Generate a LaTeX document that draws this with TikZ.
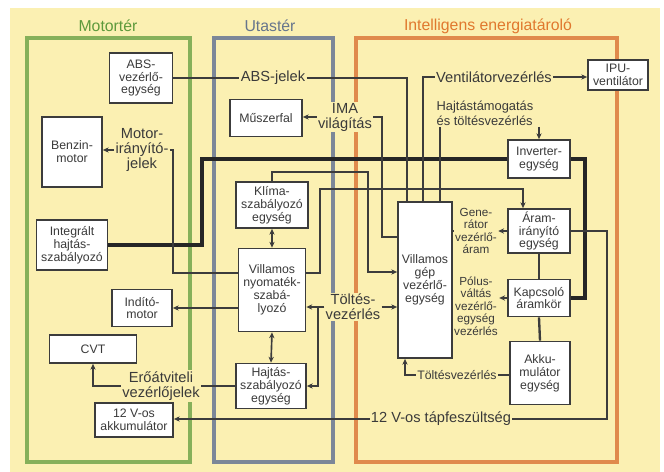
\documentclass[tikz,border=0pt]{standalone}
\usepackage{fontspec}
\setmainfont{Liberation Sans}
\usepackage{tikz}
\usetikzlibrary{arrows.meta,positioning,calc}
\definecolor{bgyellow}{HTML}{FBF0B2}
\definecolor{motgreen}{HTML}{86B05A}
\definecolor{motgreentxt}{HTML}{5E9A3C}
\definecolor{utasgrey}{HTML}{7C8798}
\definecolor{utasgreytxt}{HTML}{66758C}
\definecolor{ieorange}{HTML}{E08A4C}
\definecolor{ieorangetxt}{HTML}{E0782E}
\definecolor{wiregrey}{HTML}{3C3C3C}
\definecolor{txtgrey}{HTML}{3A3A3A}
\tikzset{
  unit/.style={draw=wiregrey, line width=1.5pt, fill=white, align=center,
               inner sep=1pt, text=txtgrey, font=\fontsize{10.5}{11}\selectfont},
  zone/.style={draw=#1, line width=2.6pt},
  zonetitle/.style={font=\fontsize{13.5}{14}\selectfont, text=#1},
  sig/.style={fill=bgyellow, inner sep=1pt, align=center, text=txtgrey,
              font=\fontsize{12.5}{12.8}\selectfont},
  sigs/.style={fill=bgyellow, inner sep=1pt, align=center, text=txtgrey,
               font=\fontsize{10}{10.7}\selectfont},
  wire/.style={draw=wiregrey, line width=1.4pt},
  wirea/.style={wire, -{Stealth[length=5pt,width=4.5pt]}},
  wireb/.style={wire, {Stealth[length=5pt,width=4.5pt]}-{Stealth[length=5pt,width=4.5pt]}},
  bus/.style={draw=black!85, line width=2.6pt},
}

\begin{document}
\begin{tikzpicture}[x=0.03cm, y=-0.03cm]
\useasboundingbox (0,0) rectangle (664,472);
\fill[white] (0,0) rectangle (664,472);
\fill[bgyellow] (10,8) rectangle (660,472);

% ------------------------- zones ----------------------------------------
\draw[zone=motgreen] (27,38) rectangle (190,462);
\draw[zone=utasgrey] (214,38) rectangle (333,462);
\draw[zone=ieorange] (356,38) rectangle (617,462);
\node[zonetitle=motgreentxt] at (108,26) (tmot) {Motortér};
\node[zonetitle=utasgreytxt] at (270,26) (tutas) {Utastér};
\node[zonetitle=ieorangetxt] at (488,26) (tie) {Intelligens energiatároló};

% ------------------------- units ----------------------------------------
\node[unit, minimum width=1.89cm, minimum height=1.5cm] at (141,78) (abs)
   {ABS-\\vezérlő-\\egység};
\node[unit, minimum width=1.8cm, minimum height=2.1cm] at (72,152) (benzin)
   {Benzin-\\motor};
\node[unit, minimum width=2.13cm, minimum height=1.5cm] at (72,245) (integ)
   {Integrált\\hajtás-\\szabályozó};
\node[unit, minimum width=1.8cm, minimum height=1.11cm] at (142,308) (indito)
   {Indító-\\motor};
\node[unit, minimum width=2.61cm, minimum height=0.84cm] at (93,349) (cvt) {CVT};
\node[unit, minimum width=2.34cm, minimum height=1.02cm] at (134,420) (akku12)
   {12 V-os\\akkumulátor};
\node[unit, minimum width=2.16cm, minimum height=1.11cm] at (266,118) (muszer)
   {Műszerfal};
\node[unit, minimum width=2.16cm, minimum height=1.38cm] at (272,205) (klima)
   {Klíma-\\szabályozó\\egység};
\node[unit, minimum width=2.01cm, minimum height=2.49cm] at (272,290) (vny)
   {Villamos\\nyomaték-\\szabá-\\lyozó};
\node[unit, minimum width=2.1cm, minimum height=1.35cm] at (271,386) (hajtas)
   {Hajtás-\\szabályozó\\egység};
\node[unit, minimum width=1.8cm, minimum height=0.9cm] at (618,75) (ipu)
   {IPU-\\ventilátor};
\node[unit, minimum width=1.86cm, minimum height=1.14cm] at (539,159) (inverter)
   {Inverter-\\egység};
\node[unit, minimum width=1.86cm, minimum height=1.32cm] at (539,231) (aram)
   {Áram-\\irányító\\egység};
\node[unit, minimum width=1.86cm, minimum height=1.11cm] at (539,298) (kapcs)
   {Kapcsoló\\áramkör};
\node[unit, minimum width=1.8cm, minimum height=1.89cm] at (540,373) (akku)
   {Akku-\\mulátor\\egység};
\node[unit, minimum width=1.62cm, minimum height=4.68cm] at (425,280) (vgv)
   {Villamos\\gép\\vezérlő-\\egység};

% ------------------------- signal labels --------------------------------
\node[sig] at (273,78) (absj) {ABS-jelek};
\node[sig] at (494,77) (vent) {Ventilátorvezérlés};
\node[sig, align=left, font=\fontsize{11}{13}\selectfont] at (485,113) (hajtl)
   {Hajtástámogatás\\és töltésvezérlés};
\node[sig] at (345,117) (ima) {IMA\\világítás};
\node[sig] at (142,150) (motj) {Motor-\\irányító-\\jelek};
\node[sig] at (353,307) (tolt) {Töltés-\\vezérlés};
\node[sig] at (161,386) (eroj) {Erőátviteli\\vezérlőjelek};
\node[sig] at (441,419) (tap) {12 V-os tápfeszültség};
\node[sigs] at (476,231) (gen) {Gene-\\rátor\\vezérlő-\\áram};
\node[sigs] at (476,306) (pol) {Pólus-\\váltás\\vezérlő-\\egység\\vezérlés};
\node[sigs, font=\fontsize{10.5}{11}\selectfont] at (457,375) (tl2) {Töltésvezérlés};

% ------------------------- connections ----------------------------------
\draw[bus] (integ.east) -| (inverter.west -| 202,0) -- (inverter.west);
\draw[bus] (inverter.east) -| (kapcs.east -| 585,0) -- (kapcs.east);

\draw[wire] (abs.east) -- (absj.west);
\draw[wire] (absj.east) -| (vgv.north -| 407,0);
\draw[wire] (vgv.north -| 423,0) |- (vent.west);
\draw[wirea] (vent.east) -- (ipu.west |- vent.east);
\draw[wire] (vgv.north -| 440,0) -- (hajtl.south -| 440,0);
\draw[wirea] (hajtl.south -| inverter.north) -- (inverter.north);

\draw[wire] (vgv.west |- 0,237) -| (ima.east -| 382,0) -- (ima.east);
\draw[wirea] (ima.west) -- (muszer.east |- ima.west);
\draw[wirea] (klima.north) |- (368,172) |- (vgv.west |- 0,272);
\draw[wirea] (vny.east |- 0,273) -| (320,189) -| (aram.north -| 523,0);
\draw[wireb] (klima.south) -- (vny.north);
\draw[wireb] (vny.south) -- (hajtas.north);

\draw[wirea] (tolt.east) -- (vgv.west |- tolt.east);
\draw[wirea] (tolt.west) -- (vny.east |- tolt.west);
\draw[wirea] (tolt.west -| 318,0) |- (hajtas.east);

\draw[wire] (vny.west |- 0,273) -| (motj.east -| 173,0) -- (motj.east);
\draw[wirea] (motj.west) -- (benzin.east |- motj.west);
\draw[wirea] (vny.west |- indito.east) -- (indito.east);
\draw[wire] (hajtas.west) -- (eroj.east |- hajtas.west);
\draw[wirea] (eroj.west |- hajtas.west) -| (cvt.south);

\draw[wire] (aram.east) -| (tap.east -| 607,0) -- (tap.east);
\draw[wirea] (tap.west) -- (akku12.east |- tap.west);

\draw[wire, line width=2pt] (aram.south) -- (kapcs.north);
\draw[wire, line width=2pt] (kapcs.south) -- (akku.north);
\draw[wirea] (aram.west) -- (gen.east |- aram.west);
\draw[wire] (gen.west |- aram.west) -- (vgv.east |- aram.west);
\draw[wirea] (kapcs.west) -- (pol.east |- kapcs.west);
\draw[wire] (akku.west |- tl2.east) -- (tl2.east);
\draw[wirea] (tl2.west) -| (vgv.south -| 405,0);
\end{tikzpicture}
\end{document}
